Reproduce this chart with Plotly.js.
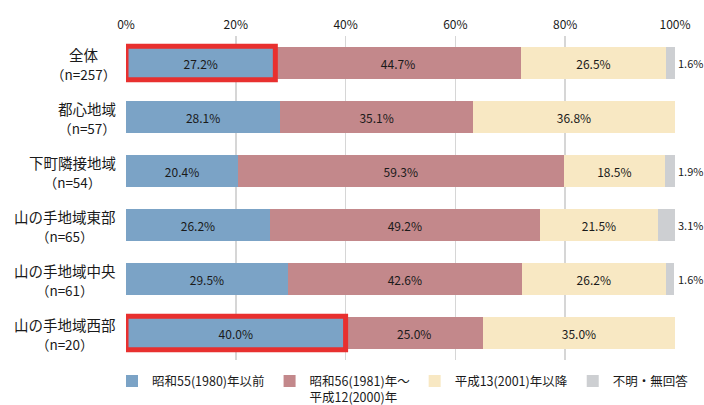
<!DOCTYPE html>
<html><head><meta charset="utf-8">
<script src="https://cdn.plot.ly/plotly-3.0.1.min.js"></script>
<style>html,body{margin:0;padding:0;background:#fff}#chart{width:704px;height:405px}</style>
</head><body><div id="chart"></div>
<script>
const regions = ["全体","都心地域","下町隣接地域","山の手地域東部","山の手地域中央","山の手地域西部"];
const sampleSizes = ["（n=257）","（n=57）","（n=54）","（n=65）","（n=61）","（n=20）"];
const seriesNames = ["昭和55(1980)年以前","昭和56(1981)年～<br>平成12(2000)年","平成13(2001)年以降","不明・無回答"];
const before1980 = [27.2, 28.1, 20.4, 26.2, 29.5, 40.0];
const from1981to2000 = [44.7, 35.1, 59.3, 49.2, 42.6, 25.0];
const from2001 = [26.5, 36.8, 18.5, 21.5, 26.2, 35.0];
const unknown = [1.6, 0, 1.9, 3.1, 1.6, 0];
const highlighted = [0, 5]; // rows whose first segment is boxed in red
const colors = ["#7ba3c6","#c3888b","#f8e8c3","#cdcfd2"];

const FONT = '"Noto Sans CJK JP", "Noto Sans", sans-serif';
const series = [before1980, from1981to2000, from2001, unknown];
const traces = series.map((vals, i) => ({
  type: 'bar', orientation: 'h',
  y: regions, x: vals, name: seriesNames[i],
  marker: {color: colors[i], line: {width: 0}},
  width: 0.58,
  text: i === 3 ? vals.map(() => '') : vals.map(v => v.toFixed(1) + '%'),
  texttemplate: i === 3 ? '' : '%{text}',
  textposition: i === 3 ? 'none' : 'inside',
  insidetextanchor: 'middle',
  textangle: 0,
  constraintext: 'none',
  textfont: {family: FONT, size: 12, color: '#1a1a1a'},
  hoverinfo: 'x+name'
}));

const annotations = [];
regions.forEach((r, i) => {
  annotations.push({
    xref: 'x domain', yref: 'y', x: 0, y: r, xanchor: 'right', yanchor: 'middle',
    xshift: -8, yshift: -1, align: 'center', showarrow: false,
    text: r + '<br><span style="font-size:13.5px">' + sampleSizes[i] + '</span>',
    font: {family: FONT, size: 14.5, color: '#1a1a1a'}
  });
  if (unknown[i] > 0) {
    annotations.push({
      xref: 'x', yref: 'y', x: 100, y: r, xanchor: 'left', yanchor: 'middle',
      xshift: 1, showarrow: false, text: unknown[i].toFixed(1) + '%',
      font: {family: FONT, size: 11, color: '#1a1a1a'}
    });
  }
});

const shapes = highlighted.map(i => ({
  type: 'rect', xref: 'x', yref: 'y',
  x0: 0, x1: before1980[i], y0: i - 0.31, y1: i + 0.31,
  line: {color: '#e8302f', width: 5}, fillcolor: 'rgba(0,0,0,0)'
}));

// plot area placed with axis domains (px 126..675 by 36..360); margins zero
const W = 704, H = 405;
const xDomain = [126 / W, 675 / W];
const yDomain = [(H - 360) / H, (H - 36) / H];

const layout = {
  width: W, height: H,
  margin: {l: 0, r: 0, t: 0, b: 0, autoexpand: false},
  paper_bgcolor: '#fff', plot_bgcolor: '#fff',
  barmode: 'stack', bargap: 0.42,
  font: {family: FONT, size: 12, color: '#1a1a1a'},
  xaxis: {
    side: 'top', range: [0, 100], dtick: 20, ticksuffix: '%',
    showgrid: true, gridcolor: '#d6d6d6', gridwidth: 1.5, zeroline: false,
    showline: false, ticks: '', fixedrange: true, ticklabelstandoff: 4,
    tickfont: {family: FONT, size: 12, color: '#1a1a1a'},
    domain: xDomain, automargin: false
  },
  yaxis: {
    type: 'category', autorange: 'reversed', showticklabels: false,
    showgrid: false, zeroline: false, ticks: '', fixedrange: true,
    domain: yDomain, automargin: false
  },
  showlegend: true,
  legend: {
    orientation: 'h', x: 112 / W, xanchor: 'left', y: -0.018, yanchor: 'bottom',
    traceorder: 'normal', font: {family: FONT, size: 12.5, color: '#1a1a1a'},
    itemwidth: 30, tracegroupgap: 0, valign: 'top', bgcolor: 'rgba(0,0,0,0)'
  },
  annotations, shapes
};

Plotly.newPlot('chart', traces, layout, {displayModeBar: false, staticPlot: true});
</script></body></html>
